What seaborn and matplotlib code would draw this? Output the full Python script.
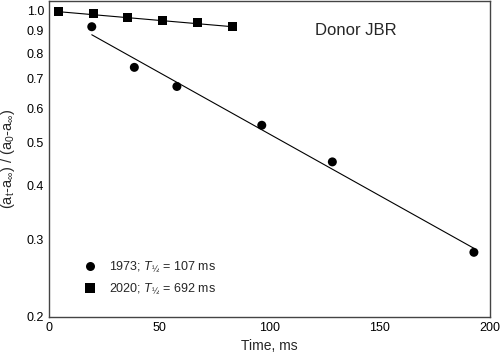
import numpy as np
import pandas as pd
import matplotlib
matplotlib.use("Agg")
import matplotlib.pyplot as plt
from matplotlib.ticker import FixedLocator, FormatStrFormatter, NullLocator
import seaborn as sns

# -------------------------------
# Data
# -------------------------------
t_1973 = [19.4, 38.7, 58.0, 96.5, 128.5, 192.7]
y_1973 = [0.920, 0.743, 0.672, 0.548, 0.452, 0.281]

t_2020 = [4.5, 20.4, 35.7, 51.6, 67.3, 83.1]
y_2020 = [0.995, 0.984, 0.968, 0.951, 0.943, 0.920]

half_life_1973 = 107
half_life_2020 = 692
fit_span_1973 = [19.4, 192.7]
fit_span_2020 = [4.5, 83.1]

x_ticks = [0, 50, 100, 150, 200]
y_ticks = [0.2, 0.3, 0.4, 0.5, 0.6, 0.7, 0.8, 0.9, 1.0]

pts = pd.DataFrame({
    "t": t_1973 + t_2020,
    "y": y_1973 + y_2020,
    "series": ["1973"] * len(t_1973) + ["2020"] * len(t_2020),
})

fit = pd.DataFrame({
    "t": fit_span_1973 + fit_span_2020,
    "series": ["1973"] * 2 + ["2020"] * 2,
})
fit["y"] = np.where(fit["series"] == "1973",
                    2.0 ** (-fit["t"] / half_life_1973),
                    2.0 ** (-fit["t"] / half_life_2020))

# -------------------------------
# Plot
# -------------------------------
sns.set_style("white")
plt.rcParams["font.family"] = ["Liberation Sans", "DejaVu Sans"]
plt.rcParams["mathtext.fontset"] = "custom"
plt.rcParams["mathtext.rm"] = "Liberation Sans"
plt.rcParams["mathtext.it"] = "Liberation Sans:italic"
plt.rcParams["mathtext.default"] = "regular"

fig = plt.figure(figsize=(5, 3.56), dpi=100)
ax = fig.add_axes([0.098, 0.1096, 0.882, 0.888])

sns.lineplot(data=fit, x="t", y="y", units="series", estimator=None,
             color="black", linewidth=0.8, ax=ax, legend=False)

labels = {
    "1973": "1973; $\\mathit{T}_{½}$ = 107 ms",
    "2020": "2020; $\\mathit{T}_{½}$ = 692 ms",
}
pts["label"] = pts["series"].map(labels)
sns.scatterplot(data=pts, x="t", y="y", style="label",
                markers={labels["1973"]: "o", labels["2020"]: "s"},
                color="black", s=42, edgecolor="black", linewidth=0, ax=ax)

ax.set_yscale("log")
ax.set_xlim(0, 200)
ax.set_ylim(0.2, 1.054)
ax.xaxis.set_major_locator(FixedLocator(x_ticks))
ax.yaxis.set_major_locator(FixedLocator(y_ticks))
ax.yaxis.set_major_formatter(FormatStrFormatter("%.1f"))
ax.yaxis.set_minor_locator(NullLocator())
ax.tick_params(direction="in", length=4, width=0.8, labelsize=9,
               colors="#333333", labelcolor="black")

for sp in ax.spines.values():
    sp.set_color("#444444")
    sp.set_linewidth(1.0)

ax.set_xlabel("Time, ms", fontsize=10, labelpad=4)
ax.set_ylabel("(a$_t$-a$_\\infty$) / (a$_0$-a$_\\infty$)", fontsize=10.5, labelpad=7)

ax.text(0.695, 0.905, "Donor JBR", transform=ax.transAxes, fontsize=12,
        ha="center", va="center")

leg = ax.legend(loc="lower left", bbox_to_anchor=(0.04, 0.03), frameon=False,
                fontsize=9, handletextpad=0.5, labelspacing=0.6, title=None)

fig.savefig("out.png", dpi=100)
